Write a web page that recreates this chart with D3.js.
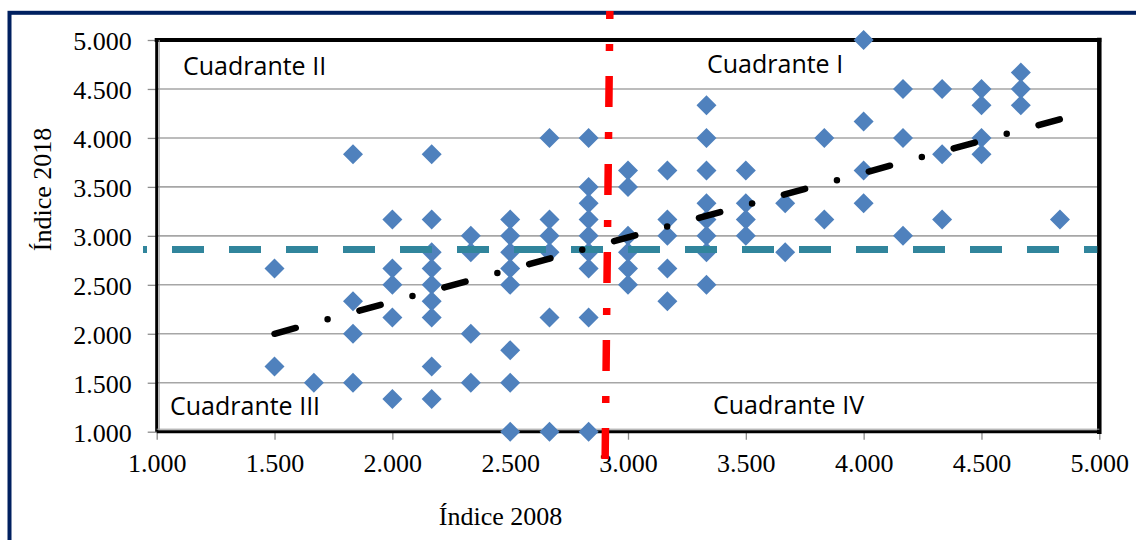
<!DOCTYPE html>
<html>
<head>
<meta charset="utf-8">
<script src="https://cdn.jsdelivr.net/npm/d3@7"></script>
<style>
  html, body { margin: 0; padding: 0; background: #ffffff; }
  svg { display: block; }
</style>
</head>
<body>
<svg id="chart" width="1136" height="540"></svg>
<script>
// ---- data ----
const x2008 = [1.500, 1.667, 1.833, 2.000, 2.167, 2.333, 2.500, 2.667, 2.833, 3.000,
               3.167, 3.333, 3.500, 3.667, 3.833, 4.000, 4.167, 4.333, 4.500, 4.667, 4.833];
const y2018ByX = [
  [2.667, 1.667],
  [1.500],
  [3.833, 2.333, 2.000, 1.500],
  [3.167, 2.667, 2.500, 2.167, 1.333],
  [3.833, 3.167, 2.833, 2.667, 2.500, 2.333, 2.167, 1.667, 1.333],
  [3.000, 2.833, 2.000, 1.500],
  [3.167, 3.000, 2.833, 2.667, 2.500, 1.833, 1.500, 1.000],
  [4.000, 3.167, 3.000, 2.833, 2.167, 1.000],
  [4.000, 3.500, 3.333, 3.167, 3.000, 2.833, 2.667, 2.167, 1.000],
  [3.667, 3.500, 3.000, 2.833, 2.667, 2.500],
  [3.667, 3.167, 3.000, 2.667, 2.333],
  [4.333, 4.000, 3.667, 3.333, 3.167, 3.000, 2.833, 2.500],
  [3.667, 3.333, 3.167, 3.000],
  [3.333, 2.833],
  [4.000, 3.167],
  [5.000, 4.167, 3.667, 3.333],
  [4.500, 4.000, 3.000],
  [4.500, 3.833, 3.167],
  [4.500, 4.333, 4.000, 3.833],
  [4.667, 4.500, 4.333],
  [3.167]
];
const trendX = [1.500, 4.833];
const trendY = [2.000, 4.190];
const meanY2018 = 2.86;          // teal dashed horizontal line
const cutX2008 = [2.923, 2.903]; // red dash-dot vertical (top, bottom) - slightly tilted
const xTicks = [1.0, 1.5, 2.0, 2.5, 3.0, 3.5, 4.0, 4.5, 5.0];
const yTicks = [1.0, 1.5, 2.0, 2.5, 3.0, 3.5, 4.0, 4.5, 5.0];
const quadrantLabels = ["Cuadrante I", "Cuadrante II", "Cuadrante III", "Cuadrante IV"];
const xTitle = "Índice 2008";
const yTitle = "Índice 2018";

// ---- layout ----
const svg = d3.select("#chart");
const pL = 156.7, pR = 1099.3, pT = 40, pB = 431.7;
const x = d3.scaleLinear().domain([1, 5]).range([pL, pR]);
const y = d3.scaleLinear().domain([1, 5]).range([pB, pT]);
const fmt = d3.format(".3f");
const serif = "'Liberation Serif', 'Times New Roman', serif";
const sans = "'Open Sans', 'Noto Sans', sans-serif";

svg.append("rect").attr("width", 1136).attr("height", 540).attr("fill", "#fff");

// outer navy frame (extends beyond right/bottom edge)
svg.append("rect")
  .attr("x", 9.5).attr("y", 12.8).attr("width", 1200).attr("height", 600)
  .attr("fill", "none").attr("stroke", "#002060").attr("stroke-width", 4);

// gridlines
svg.append("g").selectAll("line")
  .data(yTicks.filter(v => v > 1 && v < 5))
  .join("line")
  .attr("x1", pL).attr("x2", pR)
  .attr("y1", d => y(d)).attr("y2", d => y(d))
  .attr("stroke", "#a6a6a6").attr("stroke-width", 1.6);

// axes
const yAxis = d3.axisLeft(y).tickValues(yTicks).tickFormat(fmt)
  .tickSize(9).tickSizeOuter(0).tickPadding(16);
const gy = svg.append("g").attr("transform", `translate(${pL},0)`).call(yAxis);
const xAxis = d3.axisBottom(x).tickValues(xTicks).tickFormat(fmt)
  .tickSize(8).tickSizeOuter(0).tickPadding(13.5);
const gx = svg.append("g").attr("transform", `translate(0,${pB})`).call(xAxis);
[gx, gy].forEach(g => {
  g.select(".domain").remove();
  g.selectAll(".tick line").attr("stroke", "#8c8c8c").attr("stroke-width", 1.3);
  g.selectAll(".tick text").attr("fill", "#000").style("font-family", serif).style("font-size", "26px");
});
gy.selectAll(".tick text").attr("dy", "0.36em");

// plot border
svg.append("line").attr("x1", pL).attr("x2", pR).attr("y1", pT).attr("y2", pT)
  .attr("stroke", "#000").attr("stroke-width", 4).attr("stroke-linecap", "square");
svg.append("line").attr("x1", pR).attr("x2", pR).attr("y1", pT).attr("y2", pB)
  .attr("stroke", "#000").attr("stroke-width", 4.5).attr("stroke-linecap", "square");
svg.append("line").attr("x1", pL).attr("x2", pL).attr("y1", pT).attr("y2", pB)
  .attr("stroke", "#000").attr("stroke-width", 3);
svg.append("line").attr("x1", pL).attr("x2", pR).attr("y1", pB).attr("y2", pB)
  .attr("stroke", "#000").attr("stroke-width", 3);
svg.append("line").attr("x1", pL + 2.5).attr("x2", pL + 2.5).attr("y1", pT).attr("y2", pB - 2)
  .attr("stroke", "#999").attr("stroke-width", 1);
svg.append("line").attr("x1", pL).attr("x2", pR).attr("y1", pB - 2.5).attr("y2", pB - 2.5)
  .attr("stroke", "#999").attr("stroke-width", 1);

// points
const pts = [];
x2008.forEach((xv, i) => y2018ByX[i].forEach(yv => pts.push([xv, yv])));
const r = 10;
svg.append("g").selectAll("path")
  .data(pts)
  .join("path")
  .attr("transform", d => `translate(${x(d[0])},${y(d[1])})`)
  .attr("d", `M0,${-r}L${r},0L0,${r}L${-r},0Z`)
  .attr("fill", "#4f81bd");

// teal dashed horizontal line
svg.append("line")
  .attr("x1", 143).attr("x2", pR - 2)
  .attr("y1", y(meanY2018)).attr("y2", y(meanY2018))
  .attr("stroke", "#31859c").attr("stroke-width", 7)
  .attr("stroke-dasharray", "32,25").attr("stroke-dashoffset", 28);

// trend line (dash-dot)
svg.append("path")
  .attr("d", d3.line().x(d => x(d[0])).y(d => y(d[1]))(trendX.map((v, i) => [v, trendY[i]])))
  .attr("fill", "none").attr("stroke", "#000").attr("stroke-width", 6.5)
  .attr("stroke-linecap", "round")
  .attr("stroke-dasharray", "22,33,0,33");

// red dash-dot vertical
svg.append("line")
  .attr("x1", x(cutX2008[0])).attr("x2", x(cutX2008[1]))
  .attr("y1", 11).attr("y2", 459)
  .attr("stroke", "#ff0000").attr("stroke-width", 7.5)
  .attr("stroke-dasharray", "31,25,7,25").attr("stroke-dashoffset", 23);

// quadrant labels
const qPos = [[707, 73], [183, 75], [170, 415], [713, 414]];
svg.append("g").selectAll("text")
  .data(quadrantLabels)
  .join("text")
  .attr("x", (d, i) => qPos[i][0]).attr("y", (d, i) => qPos[i][1])
  .style("font-family", sans).style("font-size", "25px").attr("fill", "#000")
  .text(d => d);

// axis titles
svg.append("text")
  .attr("x", 500.5).attr("y", 525).attr("text-anchor", "middle")
  .style("font-family", serif).style("font-size", "26px").text(xTitle);
svg.append("text")
  .attr("transform", "translate(51,189.5) rotate(-90)").attr("text-anchor", "middle")
  .style("font-family", serif).style("font-size", "26px").text(yTitle);
</script>
</body>
</html>
